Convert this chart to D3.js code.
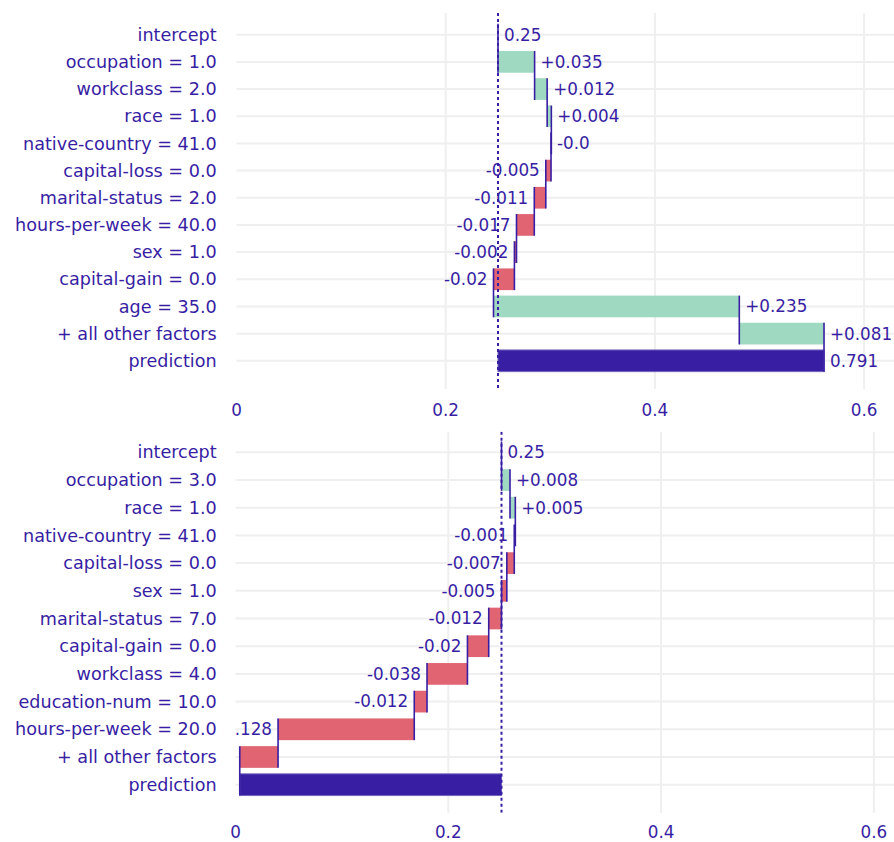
<!DOCTYPE html>
<html>
<head>
<meta charset="utf-8">
<script src="https://cdn.jsdelivr.net/npm/d3@7"></script>
<style>
  body { margin: 0; background: #ffffff; }
  text { font-family: "DejaVu Sans", Verdana, sans-serif; }
</style>
</head>
<body>
<svg id="chart" width="894" height="842"></svg>
<script>
// Break-down of two predictions: each variable's contribution to the model output.
const topFeatures = [
  "intercept", "occupation = 1.0", "workclass = 2.0", "race = 1.0",
  "native-country = 41.0", "capital-loss = 0.0", "marital-status = 2.0",
  "hours-per-week = 40.0", "sex = 1.0", "capital-gain = 0.0", "age = 35.0",
  "+ all other factors", "prediction"
];
const topContributions = [0.25, 0.035, 0.012, 0.004, -0.0003, -0.005, -0.011, -0.017, -0.002, -0.02, 0.235, 0.081];
const topPrediction = 0.791;

const bottomFeatures = [
  "intercept", "occupation = 3.0", "race = 1.0", "native-country = 41.0",
  "capital-loss = 0.0", "sex = 1.0", "marital-status = 7.0", "capital-gain = 0.0",
  "workclass = 4.0", "education-num = 10.0", "hours-per-week = 20.0",
  "+ all other factors", "prediction"
];
const bottomContributions = [0.25, 0.008, 0.005, -0.001, -0.007, -0.005, -0.012, -0.02, -0.038, -0.012, -0.128, -0.036];
const bottomPrediction = 0.004;

const xTicks = [0, 0.2, 0.4, 0.6];

// Panel geometry
const panels = [
  { features: topFeatures, contributions: topContributions, prediction: topPrediction,
    xDomain: [0, 0.6286], xRange: [236.5, 894], yRange: [34.7, 360.8],
    plotTop: 13, plotBottom: 389, tickY: 410 },
  { features: bottomFeatures, contributions: bottomContributions, prediction: bottomPrediction,
    xDomain: [0, 0.6189], xRange: [235.5, 894], yRange: [452.3, 784.7],
    plotTop: 431.7, plotBottom: 812.7, tickY: 832 }
];

const INK = "#371ea3";
const POS = "#a0d9c1";
const NEG = "#e06472";
const GRID = "#efefef";
const FONT = 16.8;
const LABEL_FONT = 17.6;
const BAR_H = 21.7;

const svg = d3.select("#chart");

function fmt(v, signed) {
  const r = Math.round(v * 1000) / 1000;
  const body = r === 0 ? "0.0" : String(Math.abs(r));
  if (signed) return (v < 0 ? "-" : "+") + body;
  return (v < 0 ? "-" : "") + body;
}

panels.forEach((p, pi) => {
  const x = d3.scaleLinear().domain(p.xDomain).range(p.xRange);
  const y = d3.scalePoint().domain(p.features).range(p.yRange);
  const n = p.features.length;
  const intercept = p.contributions[0];

  // running totals after each row
  const ends = [];
  p.contributions.forEach((c, i) => ends.push(i === 0 ? c : ends[i - 1] + c));
  const finalValue = ends[ends.length - 1];

  const rows = p.features.map((f, i) => {
    if (i === 0) return { f, start: intercept, end: intercept, value: intercept, signed: false, kind: "intercept" };
    if (i === n - 1) return { f, start: intercept, end: finalValue, value: p.prediction, signed: false, kind: "prediction" };
    const c = p.contributions[i];
    return { f, start: ends[i - 1], end: ends[i], value: c, signed: true, kind: c >= 0 ? "pos" : "neg" };
  });
  // labels go right of the bar end unless the bar runs leftwards by a visible amount
  rows.forEach(r => { r.right = Math.round((r.end - r.start) * 1000) >= 0; });

  const g = svg.append("g");
  const clipId = "clip" + pi;
  svg.append("clipPath").attr("id", clipId)
    .append("rect")
    .attr("x", p.xRange[0] - 1).attr("y", p.plotTop)
    .attr("width", p.xRange[1] - p.xRange[0] + 1).attr("height", p.plotBottom - p.plotTop);

  // grid
  g.append("g").selectAll("line").data(p.features).join("line")
    .attr("x1", p.xRange[0]).attr("x2", p.xRange[1])
    .attr("y1", d => y(d)).attr("y2", d => y(d))
    .attr("stroke", GRID).attr("stroke-width", 2);
  g.append("g").selectAll("line").data(xTicks.filter(t => t > 0)).join("line")
    .attr("x1", d => x(d)).attr("x2", d => x(d))
    .attr("y1", p.plotTop).attr("y2", p.plotBottom)
    .attr("stroke", GRID).attr("stroke-width", 2);

  const plot = g.append("g").attr("clip-path", `url(#${clipId})`);

  // bars
  plot.append("g").selectAll("rect").data(rows.filter(r => r.kind !== "intercept")).join("rect")
    .attr("x", d => x(Math.min(d.start, d.end)))
    .attr("width", d => Math.abs(x(d.end) - x(d.start)))
    .attr("y", d => y(d.f) - BAR_H / 2)
    .attr("height", BAR_H)
    .attr("fill", d => d.kind === "prediction" ? INK : d.kind === "pos" ? POS : NEG)
    .attr("stroke", d => d.kind === "prediction" ? "#7466bd" : "none")
    .attr("stroke-width", 1);

  // connectors between consecutive rows
  const links = rows.slice(0, n - 1).map((r, i) => ({ xv: r.end, a: r.f, b: rows[i + 1].f }));
  plot.append("g").selectAll("line").data(links).join("line")
    .attr("x1", d => x(d.xv)).attr("x2", d => x(d.xv))
    .attr("y1", d => y(d.a) - BAR_H / 2)
    .attr("y2", d => y(d.b) + BAR_H / 2)
    .attr("stroke", INK).attr("stroke-width", 1.6);

  // intercept reference line
  plot.append("line")
    .attr("x1", x(intercept)).attr("x2", x(intercept))
    .attr("y1", p.plotTop).attr("y2", p.plotBottom)
    .attr("stroke", INK).attr("stroke-width", 2)
    .attr("stroke-dasharray", "3,3");

  // value labels (clipped to the plot area)
  const vals = plot.append("g").selectAll("text").data(rows).join("text")
    .attr("x", d => d.right ? x(d.end) + 6 : x(d.end) - 6)
    .attr("y", d => y(d.f))
    .attr("dy", "0.35em")
    .attr("text-anchor", d => d.right ? "start" : "end")
    .attr("fill", INK).attr("font-size", FONT)
    .text(d => fmt(d.value, d.signed));
  // drop labels that fall completely outside the plot area
  vals.each(function (d) {
    const b = this.getBBox();
    if (b.x + b.width <= p.xRange[0] || b.x >= p.xRange[1]) d3.select(this).remove();
  });

  // category labels
  g.append("g").selectAll("text").data(p.features).join("text")
    .attr("x", 216.7).attr("y", d => y(d)).attr("dy", "0.35em")
    .attr("text-anchor", "end")
    .attr("fill", INK).attr("font-size", LABEL_FONT)
    .text(d => d);

  // x tick labels
  g.append("g").selectAll("text").data(xTicks).join("text")
    .attr("x", d => x(d)).attr("y", p.tickY).attr("dy", "0.35em")
    .attr("text-anchor", "middle")
    .attr("fill", INK).attr("font-size", FONT)
    .text(d => d3.format("~g")(d));
});
</script>
</body>
</html>
